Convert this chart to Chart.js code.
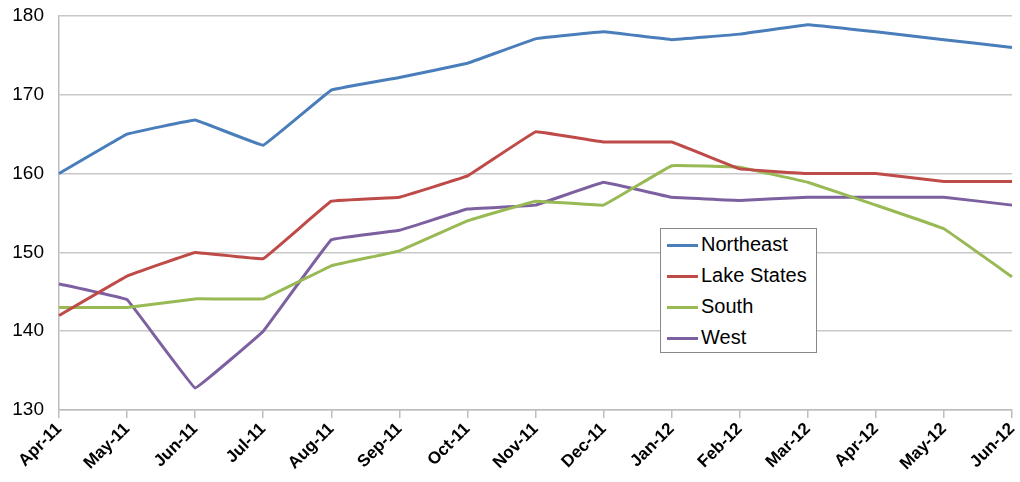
<!DOCTYPE html>
<html>
<head>
<meta charset="utf-8">
<script src="https://cdn.jsdelivr.net/npm/chart.js@4"></script>
<style>
  html, body { margin: 0; padding: 0; background: #fff; }
  #wrap { position: relative; width: 1020px; height: 482px; }
  #legend {
    position: absolute; left: 660px; top: 228px; width: 157px; height: 125px;
    border: 1px solid #888; background: #fff; box-sizing: border-box;
    font-family: "Liberation Sans", Arial, sans-serif; font-size: 20px; color: #000;
    padding-top: 0px;
  }
  #legend div { height: 31px; line-height: 31px; white-space: nowrap; }
  #legend span { display: inline-block; width: 31px; height: 3px; vertical-align: middle; margin: 0 3px 0 6px; }
</style>
</head>
<body>
<div id="wrap">
  <canvas id="regionChart" width="1020" height="482"></canvas>
  <div id="legend"></div>
</div>
<script>
const months = ["Apr-11", "May-11", "Jun-11", "Jul-11", "Aug-11", "Sep-11", "Oct-11", "Nov-11",
                "Dec-11", "Jan-12", "Feb-12", "Mar-12", "Apr-12", "May-12", "Jun-12"];
const northeast  = [160, 165, 166.8, 163.6, 170.6, 172.2, 174, 177.1, 178, 177, 177.7, 178.9, 178, 177, 176];
const lakeStates = [142, 147, 150, 149.2, 156.5, 157, 159.7, 165.3, 164, 164, 160.6, 160, 160, 159, 159];
const south      = [143, 143, 144.1, 144.1, 148.3, 150.2, 154, 156.5, 156, 161, 160.8, 158.9, 156, 153, 146.9];
const west       = [146, 144, 132.8, 140, 151.6, 152.8, 155.5, 156, 158.9, 157, 156.6, 157, 157, 157, 156];
const seriesNames = ["Northeast", "Lake States", "South", "West"];
const seriesColors = ["#4a7ebb", "#be4b48", "#98b954", "#7d60a0"];

document.addEventListener("DOMContentLoaded", function () {
    const ctx = document.getElementById("regionChart").getContext("2d");
    const values = [northeast, lakeStates, south, west];

    new Chart(ctx, {
        type: "line",
        data: {
            labels: months,
            datasets: values.map((v, i) => ({
                label: seriesNames[i],
                data: v,
                borderColor: seriesColors[i],
                backgroundColor: seriesColors[i],
                borderWidth: 3,
                pointRadius: 0,
                tension: 0.04,
                fill: false,
            })),
        },
        options: {
            responsive: false,
            animation: false,
            layout: { padding: { top: 16, right: 8, left: 0, bottom: 0 } },
            plugins: { legend: { display: false }, tooltip: { enabled: false } },
            scales: {
                x: {
                    offset: false,
                    grid: { display: true, drawOnChartArea: false, color: "#bdbdbd", lineWidth: 1.5, tickLength: 8 },
                    border: { color: "#bdbdbd", width: 1.5 },
                    ticks: {
                        maxRotation: 45, minRotation: 45, autoSkip: false,
                        color: "#000",
                        font: { family: "Liberation Sans", size: 17, weight: "bold" },
                        padding: 1,
                    },
                    afterFit: (s) => { s.height = 72; s.paddingLeft = 0; s.paddingRight = 0; },
                },
                y: {
                    min: 130, max: 180,
                    ticks: {
                        stepSize: 10, color: "#000", padding: 15,
                        font: { family: "Liberation Sans", size: 19 },
                    },
                    grid: { color: "#c8c8c8", lineWidth: 1.5, drawTicks: false },
                    border: { color: "#bdbdbd", width: 1.5 },
                    afterFit: (s) => { s.width = 59; s.paddingTop = 0; s.paddingBottom = 0; },
                },
            },
        },
    });

    const legend = document.getElementById("legend");
    seriesNames.forEach((name, i) => {
        const row = document.createElement("div");
        const line = document.createElement("span");
        line.style.background = seriesColors[i];
        row.appendChild(line);
        row.appendChild(document.createTextNode(name));
        legend.appendChild(row);
    });
});
</script>
</body>
</html>
